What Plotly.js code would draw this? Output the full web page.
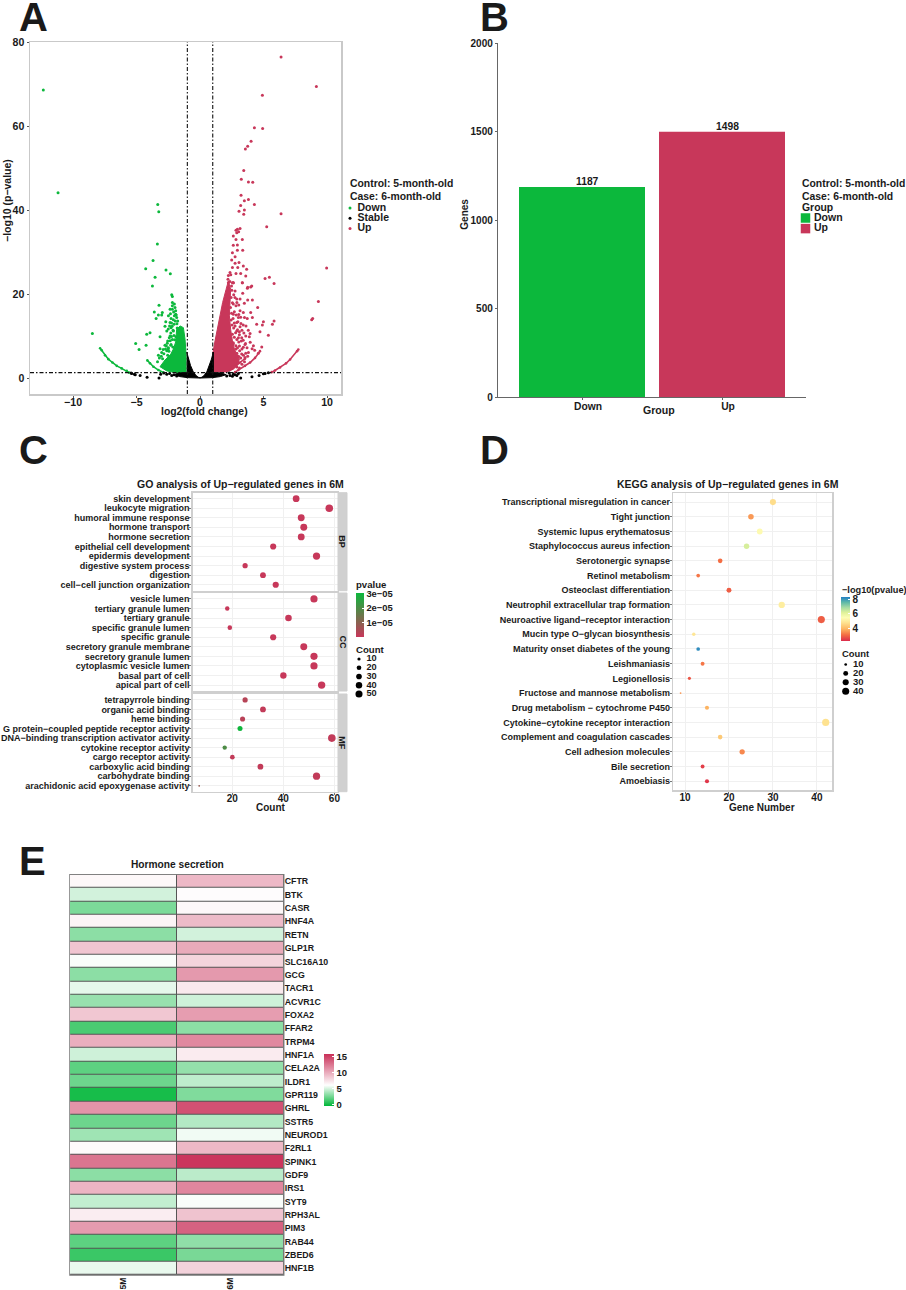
<!DOCTYPE html>
<html>
<head>
<meta charset="utf-8">
<script src="https://cdn.plot.ly/plotly-3.0.1.min.js"></script>
<style>html,body{margin:0;padding:0;background:#fff}</style>
</head>
<body>
<div id="plotArea" style="width:906px;height:1290px"></div>
<script>
// A - volcano, single genes
var downX = [-12.34,-11.18,-3.33,-3.25,-3.36,-3.7,-4.28,-3.54,-3.75,-2.68,-2.34,-8.48,-2.23,-2.18,-3.23,-2.18,-2.02,-2.18,-1.97,-2.36,-2.18,-1.92,-3.6,-2.97,-3.28,-3.02,-3.46,-1.92,-1.84,-1.76,-2.02,-2.49,-2.28,-2.7,-2.36,-2.76,-2.28,-2.62,-2.1,-3.94,-4.2,-3.15,-2.36,-2.18,-4.25,-5.07,-4.8,-2.55,-2.28,-2.76,-2.49,-3.15,-2.62,-3.02,-3.28,
    -2.9,-2.65,-2.45,-2.35,-2.25,-2.15,-2.05,-2.12,-2.3,-2.42,-2.58,-2.72,-2.85,-3.05,-3.2,-3.35,-2.95,-2.55,-2.42,-2.2,-2.05,-1.95,-1.82,-2.1,-2.25,-2.4,-2.5,-2.33,-2.08,-1.88,-1.8,-1.9,-2,-2.3,-2.5]
var downY = [68.6,44.1,41.3,39.6,31.9,28,26,24,21.9,25.7,24.8,10.6,19.8,19.4,17.3,18,17.6,17.2,16.8,16.4,16.4,16,15.7,15.6,15,15,14.2,15.2,14.4,13.6,14.8,14.8,14.2,13.4,13.2,12.3,12,11.2,11.2,10.8,10.4,9.8,10,9.2,7.8,8.2,6.8,8.8,8,7.8,7.2,7,6.5,6.1,5.4,
    6.8,7.6,6.4,8.9,9.9,7.4,10.1,11.4,10.7,9.6,8.3,6.9,5.8,5.2,4.8,3.9,4.6,5.4,4.9,12.3,12.8,13.6,12.9,13.9,13.1,12.4,11.7,15.3,15.7,15,11.9,9.8,9.1,7.8,6.9]
var upX = [6.38,9.16,4.91,4.28,4.93,4.02,3.75,3.57,3.44,3.25,3.81,4.15,3.23,3.49,3.81,4.28,3.2,3.07,3.49,3.44,6.38,5.25,3.15,2.94,2.83,3.04,2.89,2.62,2.83,3.33,2.62,2.94,3.36,2.94,2.55,2.76,2.49,3.07,2.76,3.41,2.55,2.97,3.67,2.36,2.83,3.2,2.23,3.6,5.12,5.46,2.2,3.33,2.55,5.83,9.97,3.99,3.73,2.23,2.62,3.33,2.62,4.07,3.75,2.76,3.36,2.89,3.15,3.49,3.75,4.12,4.54,2.62,2.83,3.15,3.41,3.99,4.12,2.62,2.89,3.02,4.46,4.99,4.91,5.83,5.7,8.79,8.87,9.32,4.72,3.94,5.38,3.6,3.28,3.02,2.76,2.89,3.1,2.62,3.54,3.41,4.2,4.86,3.81,4.59,3.28,2.83,3.1,2.94,3.54,2.76,
    2.45,2.55,2.4,2.48,2.6,2.7,2.52,2.45,2.65,2.8,2.55,2.7,2.9,3.05,2.62,2.82,2.95,3.12,3.3,2.7,2.9,3.05,3.2,3.42,3.6,3.75,3.15,3.3,3.45,2.95,3.1,3.25,3.4,3.58,3.7,2.98,3.22,3.4,3.62,3.8,2.7,2.85,3.05,3.2,3.5,3.72,2.5,2.65,2.75,2.9,3.05,2.48,2.35,2.42,3.88,3.95,4.1,4.3,2.55,2.8,3,3.3,3.5,2.9,2.6,3.1]
var upY = [76.4,69.4,67.3,59.6,59.4,56.4,55.2,54.5,49.4,47.3,46.7,46.6,43.5,42.2,42.5,41.3,41.1,39.7,40,39,39.1,36,35.6,35.4,35.2,34.8,34.6,33.8,33,33,31.6,31.7,30.4,30.4,29.8,28.9,28.1,27.5,27.3,26.7,26.3,26.3,25.9,25.1,24.9,24.9,24.4,24.3,23.7,24,23.5,22.7,22.7,22.5,26.2,21.7,21.4,22.7,22.7,22.7,22.7,21.9,21.6,20.7,20.2,18.8,18.8,17.8,18.6,18.6,16.8,17.6,17.2,16,15.6,15.6,14.4,15.2,13.2,14.4,12.8,13.4,12.6,13.6,12.8,13.9,14.2,18.2,11,10.6,10.2,10,9.6,9.6,12.4,11.2,11,8.4,8,7.3,7.7,7.4,6.1,5.9,5.7,6.9,7.6,5.3,4.9,4.5,
    19.2,17.9,16.8,15.4,14.2,13.1,12.6,13.8,11.9,10.8,10.4,9.7,9.2,8.6,8.1,7.7,7.2,6.5,6.9,6.3,5.9,5.1,4.8,5.4,5.9,5.2,12.2,11.4,10.7,11.5,10.3,8.8,9,8.2,7.2,13.4,13,12.6,12.4,11.4,15.8,15,15.1,14.5,14.4,14.2,20.9,19.8,19.2,18,17.4,21.9,23,24.6,9.8,8.5,7,6.6,3.9,4.1,3.6,3.3,3.9,2.6,2.7,2.4]
var stableX = [-5.38,-5.17,-4.72,-4.17,-3.23,-2.62,-2.23,-1.84,-5.43,-5.1,3.2,4.09,4.65,4.99,5.12,5.38,2.62,2.36,2.1,3.02,2.9,-2.05,-2.4,-2.85,-3.1,2.3,2.55,2.75]
var stableY = [1.1,0.9,0.6,0.2,0,0.9,0.6,0.5,1.2,0.8,0,0.3,0.6,1,1.1,1.27,0.9,0.6,0.5,1.1,0.6,0.8,1.1,1.2,0.9,1.2,0.4,0.8]

// A - the arcs of genes that run along the low-count curves
var downArcFarX = [-7.87,-7.74,-7.48,-7.22,-6.9,-6.56,-6.17,-5.77,-5.6]
var downArcFarY = [7.1,6.6,5.4,4.5,3.7,2.9,2.3,1.7,1.3]
var downArcNearX = [-4.15,-3.94,-3.67,-3.28,-2.89]
var downArcNearY = [4.2,3.5,2.7,1.9,1.3]
var upArcFarX = [7.74,7.64,7.09,6.77,6.3,5.9,5.64]
var upArcFarY = [6.8,6.4,4.4,3.5,2.5,1.8,1.4]
var upArcMidX = [4.72,4.33,3.94,3.54,3.02,2.76]
var upArcMidY = [6.4,4.8,3.7,2.9,1.9,1.4]
var upArcNearX = [3.54,3.15,2.76,2.36]
var upArcNearY = [4.6,3.7,2.9,1.9]

// A - outlines of the parts where the points merge into a solid area
var downCoreX = [-1.1,-1.1,-1.18,-1.31,-1.57,-1.84,-1.92,-2.1,-2.3,-2.76,-3.15,-2.62,-1.97,-1.1]
var downCoreY = [1.3,5.7,9.2,12,12.4,11.6,8.6,6.9,5.7,4.3,2.7,1.7,1.3,1.3]
var upCoreX = [1,1,1.18,1.36,1.57,1.78,2.05,2.23,2.41,2.36,2.31,2.41,2.57,2.76,3.1,2.94,2.62,2.1,1]
var upCoreY = [1.46,5.7,8.85,11.6,14.8,18,21.1,23.1,21.1,18,14.8,11.6,8.4,6.4,4.5,3,2.1,1.46,1.46]
var stableCoreX = [-1.05,-0.9,-0.75,-0.55,-0.35,-0.15,0,0.15,0.35,0.55,0.75,0.9,1.05,1.05,1.7,2.05,1.6,1,0,-1,-1.6,-2.05,-1.7,-1.05]
var stableCoreY = [6.2,4.5,3,1.6,0.7,0.2,0.05,0.2,0.7,1.6,3,4.5,6.2,1.3,1.2,0.8,0.35,0.1,0,0.1,0.35,0.8,1.2,1.3]

// B
var groupNames = ["Down", "Up"]
var groupGenes = [1187, 1498]

// C - GO terms
var bpTerms = ["skin development","leukocyte migration","humoral immune response","hormone transport","hormone secretion","epithelial cell development","epidermis development","digestive system process","digestion","cell−cell junction organization"]
var bpCount = [45,58,47,48,47,36,53,25,32,37]
var bpP = [2e-7,2e-7,2e-7,2e-7,2e-7,2e-7,2e-7,2e-7,2e-7,2e-7]
var ccTerms = ["vesicle lumen","tertiary granule lumen","tertiary granule","specific granule lumen","specific granule","secretory granule membrane","secretory granule lumen","cytoplasmic vesicle lumen","basal part of cell","apical part of cell"]
var ccCount = [52,18,42,19,36,48,52,52,40,55]
var ccP = [2e-7,2e-7,2e-7,2e-7,2e-7,2e-7,2e-7,2e-7,2e-7,2e-7]
var mfTerms = ["tetrapyrrole binding","organic acid binding","heme binding","G protein−coupled peptide receptor activity","DNA−binding transcription activator activity","cytokine receptor activity","cargo receptor activity","carboxylic acid binding","carbohydrate binding","arachidonic acid epoxygenase activity"]
var mfCount = [25,32,24,23,59,17,20,31,53,7]
var mfP = [3e-6,1e-6,2.5e-6,3e-5,1e-6,2e-5,1e-6,1e-6,1e-6,8e-6]

// D - KEGG
var keggTerms = ["Transcriptional misregulation in cancer","Tight junction","Systemic lupus erythematosus","Staphylococcus aureus infection","Serotonergic synapse","Retinol metabolism","Osteoclast differentiation","Neutrophil extracellular trap formation","Neuroactive ligand−receptor interaction","Mucin type O−glycan biosynthesis","Maturity onset diabetes of the young","Leishmaniasis","Legionellosis","Fructose and mannose metabolism","Drug metabolism − cytochrome P450","Cytokine−cytokine receptor interaction","Complement and coagulation cascades","Cell adhesion molecules","Bile secretion","Amoebiasis"]
var keggCount = [30,25,27,24,18,13,20,32,41,12,13,14,11,9,15,42,18,23,14,15]
var keggLogP = [4.7,3.6,5.4,6.3,3.1,3.2,2.9,5.1,2.9,4.9,8.2,3.2,2.8,3.6,3.9,4.8,4.3,3.4,2.5,2.4]

// E - heatmap
var genes = ["CFTR","BTK","CASR","HNF4A","RETN","GLP1R","SLC16A10","GCG","TACR1","ACVR1C","FOXA2","FFAR2","TRPM4","HNF1A","CELA2A","ILDR1","GPR119","GHRL","SSTR5","NEUROD1","F2RL1","SPINK1","GDF9","IRS1","SYT9","RPH3AL","PIM3","RAB44","ZBED6","HNF1B"]
var expr5M = [6.3,4.8,2.6,6.5,3,8.7,5.8,3,5.3,3.3,8.6,1.3,9.8,4.7,1.8,2.2,0,11,2.2,3.5,6.2,12.5,3,9.5,4.4,6.8,10.7,1.8,0.9,5.4]
var expr6M = [9.3,6.1,6.3,9.2,4.8,10,8,10.8,7,4.7,10.6,3,11.6,6.9,3.2,4.3,2.7,14.2,4,5.6,9.3,15.5,4.2,11.7,5.8,8.8,13.4,3.1,2.5,8.1]

var W = 906, H = 1290
var GREEN = "#0CB83C", RED = "#C8375A", FONT = "Liberation Sans", INK = "#1a1a1a"

function xd(a, b) { return [a / W, b / W] }
function yd(top, bottom) { return [1 - bottom / H, 1 - top / H] }

// text placed by page pixel
function note(text, px, py, size, anchor, angle) {
    return {
        text: text, xref: "paper", yref: "paper", x: px / W, y: 1 - py / H,
        xanchor: anchor || "center", yanchor: "middle", showarrow: false, textangle: angle || 0,
        borderpad: 0, font: { family: FONT, size: size, color: INK, weight: 700 }
    }
}

// ggplot style area scale, diameter in px
function sizeFor(vals, vmin, vmax, dmin, dmax) {
    return vals.map(v => dmin + (dmax - dmin) * Math.sqrt((v - vmin) / (vmax - vmin)))
}
function goSize(vals) { return sizeFor(vals, 7, 59, 1.8, 7.6) }
function keggSize(vals) { return sizeFor(vals, 9, 42, 1.8, 7.2) }

var tick = function (size) { return { family: FONT, size: size, color: INK, weight: 700 } }
var hidden = { visible: false, fixedrange: true }

var layout = {
    width: W, height: H, showlegend: false,
    margin: { l: 0, r: 0, t: 0, b: 0, autoexpand: false },
    paper_bgcolor: "#fff", plot_bgcolor: "rgba(0,0,0,0)",
    font: { family: FONT, weight: 700, color: INK },
    shapes: [], annotations: []
}

var boxAxis = {
    showline: true, mirror: true, linecolor: "#C9C9C9", linewidth: 1.5, zeroline: false,
    ticks: "outside", ticklen: 2, tickcolor: "#555", tickwidth: 1
}

// ---- A
layout.xaxis = Object.assign({}, boxAxis, { domain: xd(30, 341), range: [-13.39, 11.1], tickvals: [-10, -5, 0, 5, 10], showgrid: false, tickfont: tick(10.6), anchor: "y", ticklabelstandoff: -4 })
layout.yaxis = Object.assign({}, boxAxis, { domain: yd(42, 394), range: [-3.8, 80], tickvals: [0, 20, 40, 60, 80], showgrid: false, tickfont: tick(10.6), anchor: "x" })

function dots(x, y, color, xa, ya) {
    return { type: "scatter", mode: "markers", x: x, y: y, xaxis: xa || "x", yaxis: ya || "y", marker: { color: color, size: 3, opacity: 1 }, hoverinfo: "skip" }
}
function arc(x, y, color) {
    return { type: "scatter", mode: "lines+markers", x: x, y: y, line: { color: color, width: 1.6 }, marker: { color: color, size: 2.6, opacity: 1 }, hoverinfo: "skip" }
}
function core(x, y, color) {
    return { type: "scatter", mode: "lines", x: x, y: y, fill: "toself", fillcolor: color, line: { color: color, width: 1 }, hoverinfo: "skip" }
}
function guide(x, y) {
    return { type: "scatter", mode: "lines", x: x, y: y, line: { color: "#111", width: 1.1, dash: "4px,2px,1.5px,2px" }, hoverinfo: "skip" }
}

var data = [
    core(downCoreX, downCoreY, GREEN), core(upCoreX, upCoreY, RED), core(stableCoreX, stableCoreY, "#000"),
    arc(downArcFarX, downArcFarY, GREEN), arc(downArcNearX, downArcNearY, GREEN),
    arc(upArcFarX, upArcFarY, RED), arc(upArcMidX, upArcMidY, RED), arc(upArcNearX, upArcNearY, RED),
    dots(downX, downY, GREEN), dots(upX, upY, RED), dots(stableX, stableY, "#000"),
    guide([-1, -1], [-3.8, 80]), guide([1, 1], [-3.8, 80]), guide([-13.39, 11.1], [1.3, 1.3])
]

// ---- B
layout.xaxis2 = { domain: xd(498, 806), range: [-0.6, 1.6], anchor: "y2", showline: true, linecolor: "#666", linewidth: 1.2, ticks: "outside", ticklen: 2, tickcolor: "#666", tickfont: tick(10.3), ticklabelshift: 6, ticklabelstandoff: -3, showgrid: false, zeroline: false, type: "category" }
layout.yaxis2 = { domain: yd(43, 397), range: [0, 2000], anchor: "x2", showline: true, linecolor: "#666", linewidth: 1.2, ticks: "outside", ticklen: 2, tickcolor: "#666", tickfont: tick(10), tickvals: [0, 500, 1000, 1500, 2000], showgrid: false, zeroline: false }
data.push({
    type: "bar", x: groupNames, y: groupGenes, xaxis: "x2", yaxis: "y2", width: 0.9,
    marker: { color: [GREEN, RED] }, hoverinfo: "skip"
})
groupNames.forEach(function (g, i) {
    layout.annotations.push({
        text: String(groupGenes[i]), x: g, y: groupGenes[i], xref: "x2", yref: "y2", xshift: 5, yshift: -1, yanchor: "bottom",
        showarrow: false, borderpad: 0, font: { family: FONT, size: 10.3, color: INK, weight: 700 }
    })
})

// ---- C, three facets sharing the count scale
var facetAxis = {
    showline: true, mirror: true, linecolor: "#CFCFCF", linewidth: 1.5, zeroline: false,
    showgrid: true, gridcolor: "#F0F0F0", gridwidth: 1, ticks: "outside", ticklen: 2, tickcolor: "#777"
}
var goBands = [[492.7, 590.7], [593, 691], [694, 791.7]]
var goTerms = [bpTerms, ccTerms, mfTerms], goCount = [bpCount, ccCount, mfCount], goP = [bpP, ccP, mfP]
var goNames = ["BP", "CC", "MF"]
goBands.forEach(function (band, i) {
    var n = i + 3
    layout["xaxis" + n] = Object.assign({}, facetAxis, {
        domain: xd(192.7, 337.7), range: [4.45, 61.3], tickvals: [20, 40, 60], anchor: "y" + n,
        showticklabels: i == 2, tickfont: tick(10), ticklen: i == 2 ? 2 : 0, ticklabelstandoff: -5
    })
    layout["yaxis" + n] = Object.assign({}, facetAxis, {
        domain: yd(band[0], band[1]), range: [9.62, -0.62], anchor: "x" + n, type: "category",
        categoryorder: "array", categoryarray: goTerms[i], tickmode: "array", tickvals: goTerms[i],
        tickfont: tick(9), ticklabelstandoff: -2
    })
    var mk = { size: goSize(goCount[i]), color: goP[i], cmin: 0, cmax: 3.05e-5, colorscale: [[0, RED], [1, GREEN]], line: { width: 0 }, opacity: 1 }
    if (i == 0) {
        mk.showscale = true
        mk.colorbar = {
            x: 355.7 / W, xanchor: "left", y: 1 - 593 / H, yanchor: "top", len: 44, lenmode: "pixels", thickness: 7.5,
            xpad: 0, ypad: 0, outlinewidth: 0, ticks: "inside", ticklen: 2, tickcolor: "#fff", tickfont: tick(9.4),
            tickvals: [1e-5, 2e-5, 3e-5], ticktext: ["1e−05", "2e−05", "3e−05"]
        }
    }
    data.push({ type: "scatter", mode: "markers", x: goCount[i], y: goTerms[i], xaxis: "x" + n, yaxis: "y" + n, marker: mk, hoverinfo: "skip" })
    // facet strip
    layout.shapes.push({ type: "rect", xref: "paper", yref: "paper", x0: 338 / W, x1: 347 / W, y0: 1 - band[0] / H, y1: 1 - band[1] / H, fillcolor: "#D0D0D0", line: { color: "#CFCFCF", width: 1 } })
    layout.annotations.push(note(goNames[i], 342.5, (band[0] + band[1]) / 2, 9, "center", 90))
})

// ---- D
layout.xaxis6 = Object.assign({}, facetAxis, { domain: xd(673.3, 832.3), range: [7.34, 43.5], tickvals: [10, 20, 30, 40], anchor: "y6", tickfont: tick(10), ticklabelstandoff: -5 })
layout.yaxis6 = Object.assign({}, facetAxis, {
    domain: yd(493.3, 790), range: [19.6, -0.6], anchor: "x6", type: "category", categoryorder: "array", categoryarray: keggTerms,
    tickmode: "array", tickvals: keggTerms, tickfont: tick(9), ticklabelstandoff: -2
})
var spectral = [[0, "#DB2B4C"], [0.14, "#F46D43"], [0.28, "#FDB863"], [0.42, "#FEE391"], [0.53, "#FDFDB5"], [0.64, "#E2F39A"], [0.76, "#A6DBA4"], [0.88, "#5DB8A8"], [1, "#2480C4"]]
data.push({
    type: "scatter", mode: "markers", x: keggCount, y: keggTerms, xaxis: "x6", yaxis: "y6", hoverinfo: "skip",
    marker: {
        size: keggSize(keggCount), color: keggLogP, cmin: 2.24, cmax: 8.36, colorscale: spectral, line: { width: 0 }, showscale: true, opacity: 1,
        colorbar: {
            x: 841 / W, xanchor: "left", y: 1 - 596.7 / H, yanchor: "top", len: 44, lenmode: "pixels", thickness: 9,
            xpad: 0, ypad: 0, outlinewidth: 0, ticks: "inside", ticklen: 2, tickcolor: "#fff", tickfont: tick(10), tickvals: [4, 6, 8]
        }
    }
})

// ---- E
layout.xaxis7 = { domain: xd(70, 283.7), range: [-0.5, 1.5], type: "category", anchor: "y7", showgrid: false, zeroline: false, ticks: "", tickangle: -90, tickfont: tick(8.5) }
layout.yaxis7 = { domain: yd(874.7, 1275), range: [29.5, -0.5], type: "category", anchor: "x7", side: "right", showgrid: false, zeroline: false, ticks: "", tickmode: "array", tickvals: genes, tickfont: tick(8.8) }
layout.shapes.push({ type: "rect", layer: "below", xref: "x7 domain", yref: "y7 domain", x0: 0, x1: 1, y0: 0, y1: 1, fillcolor: "#555", line: { color: "#777", width: 1.5 } })
data.push({
    type: "heatmap", x: ["5M", "6M"], y: genes, z: genes.map((g, i) => [expr5M[i], expr6M[i]]), xaxis: "x7", yaxis: "y7", xgap: 1, ygap: 1,
    zmin: -0.6, zmax: 15.8, colorscale: [[0, "#00B638"], [0.4, "#FFFFFF"], [1, "#C92F58"]], hoverinfo: "skip",
    colorbar: {
        x: 324.3 / W, xanchor: "left", y: 1 - 1054.3 / H, yanchor: "top", len: 52.4, lenmode: "pixels", thickness: 10,
        xpad: 0, ypad: 0, outlinewidth: 0, ticks: "inside", ticklen: 2, tickcolor: "#fff", tickfont: tick(9.5), tickvals: [0, 5, 10, 15]
    }
})

// ---- little key panels (markers from the same scales, text next to them)
var keyNo = 8
function addKey(markX, gap, firstY, step, labels, sizes, colors, symbol, fontSize) {
    var n = keyNo++
    layout["xaxis" + n] = Object.assign({}, hidden, { domain: xd(markX - gap, markX + gap), range: [-1, 1], anchor: "y" + n })
    layout["yaxis" + n] = Object.assign({}, hidden, {
        domain: yd(firstY - step / 2, firstY + step * (labels.length - 0.5)), range: [labels.length - 0.5, -0.5],
        type: "category", categoryorder: "array", categoryarray: labels, anchor: "x" + n
    })
    data.push({ type: "scatter", mode: "markers", x: labels.map(() => 0), y: labels, xaxis: "x" + n, yaxis: "y" + n, cliponaxis: false, hoverinfo: "skip", marker: { size: sizes, color: colors, symbol: symbol || "circle", line: { width: 0 }, opacity: 1 } })
    data.push({ type: "scatter", mode: "text", x: labels.map(() => 1), y: labels, xaxis: "x" + n, yaxis: "y" + n, cliponaxis: false, hoverinfo: "skip", text: labels, textposition: "middle right", textfont: tick(fontSize) })
}
var goKey = [10, 20, 30, 40, 50], keggKey = [10, 20, 30, 40]
addKey(350, 7.5, 208, 10.2, ["Down", "Stable", "Up"], [3, 3, 3], [GREEN, "#000", RED], "circle", 10.5)
addKey(805.5, 8.5, 218, 10.6, ["Down", "Up"], [9.5, 9.5], [GREEN, RED], "square", 10.5)
addKey(359, 7.5, 659, 8.75, goKey.map(String), goSize(goKey), "#000", "circle", 9.2)
addKey(845.7, 7.3, 664.5, 8.9, keggKey.map(String), keggSize(keggKey), "#000", "circle", 9.5)

// ---- panel letters, titles and axis names
layout.annotations.push(
    note("A", 33, 16.5, 40), note("B", 494, 16.5, 40), note("C", 33, 449.5, 40), note("D", 494, 449.5, 40), note("E", 32, 861, 40),
    note("log2(fold change)", 204, 411, 10.4),
    note("−log10 (p−value)", 7, 201, 10.5, "center", -90),
    note("Control: 5-month-old", 349, 184, 10.4, "left"), note("Case: 6-month-old", 349, 196, 10.4, "left"),
    note("Group", 659, 410.5, 10.6), note("Genes", 464.7, 214, 10, "center", -90),
    note("Control: 5-month-old", 801, 184, 10.4, "left"), note("Case: 6-month-old", 801, 196, 10.4, "left"), note("Group", 801, 207.5, 10.4, "left"),
    note("GO analysis of Up−regulated genes in 6M", 240, 484, 10.5),
    note("Count", 271, 807, 10),
    note("pvalue", 355, 585, 9.6, "left"), note("Count", 355, 649.5, 9.6, "left"),
    note("KEGG analysis of Up−regulated genes in 6M", 728, 484, 10.5),
    note("Gene Number", 762, 807, 10),
    note("−log10(pvalue)", 841, 589.7, 9.2, "left"), note("Count", 841, 653.5, 9.4, "left"),
    note("Hormone secretion", 177.7, 864.5, 10.2)
)

Plotly.newPlot("plotArea", data, layout, { displayModeBar: false, staticPlot: true })
</script>
</body>
</html>
